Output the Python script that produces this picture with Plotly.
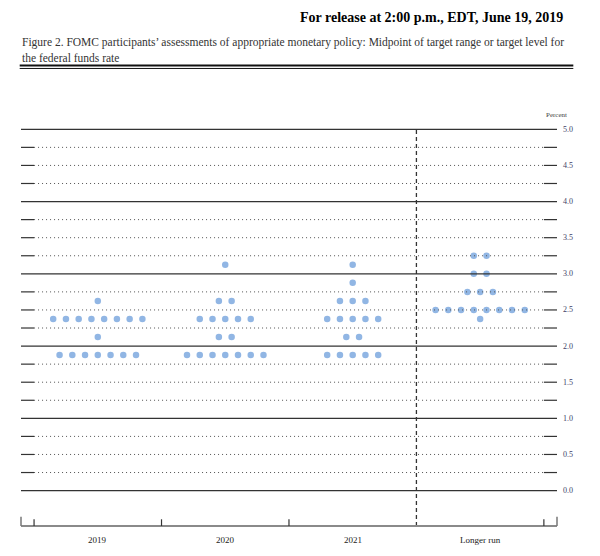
import plotly.graph_objects as go

# ---- data ----
categories = ["2019", "2020", "2021", "Longer run"]
rates_2019 = [2.625, 2.375, 2.125, 1.875]
counts_2019 = [1, 8, 1, 7]
rates_2020 = [3.125, 2.625, 2.375, 2.125, 1.875]
counts_2020 = [1, 2, 5, 2, 7]
rates_2021 = [3.125, 2.875, 2.625, 2.375, 2.125, 1.875]
counts_2021 = [1, 1, 3, 5, 2, 5]
rates_lr = [3.25, 3.0, 2.75, 2.5, 2.375]
counts_lr = [2, 2, 3, 8, 1]
y_tick_labels = ["5.0", "4.5", "4.0", "3.5", "3.0", "2.5", "2.0", "1.5", "1.0", "0.5", "0.0"]
y_tick_vals = [5.0, 4.5, 4.0, 3.5, 3.0, 2.5, 2.0, 1.5, 1.0, 0.5, 0.0]

groups = [(rates_2019, counts_2019), (rates_2020, counts_2020),
          (rates_2021, counts_2021), (rates_lr, counts_lr)]

W, H = 600, 556
L, R = 21.3, 556.7
T, B = 128.0, 525.7
XMIN, XMAX = -0.6025, 3.603
YMIN, YMAX = -0.49, 5.018
DOT_STEP = 0.1


def px(xp):
    return (xp - L) / (R - L)


def py(yp):
    return (B - yp) / (B - T)


xs, ys = [], []
for ci, (rates, counts) in enumerate(groups):
    for r, n in zip(rates, counts):
        for i in range(n):
            xs.append(ci + (i - (n - 1) / 2) * DOT_STEP)
            ys.append(r)

fig = go.Figure()
fig.add_trace(go.Scatter(
    x=xs, y=ys, mode="markers",
    marker=dict(size=6.5, color="#91B6E4", line=dict(width=0)),
    hoverinfo="y", showlegend=False, cliponaxis=False,
))

shapes = []
line_col = "#333333"
levels = [k * 0.25 for k in range(21)]
for v in levels:
    if abs(v - round(v)) < 1e-9:
        shapes.append(dict(type="line", xref="x", yref="y", x0=XMIN, x1=XMAX, y0=v, y1=v,
                           line=dict(color=line_col, width=1.2), layer="above"))
    else:
        shapes.append(dict(type="line", xref="x", yref="y", x0=XMIN, x1=-0.5, y0=v, y1=v,
                           line=dict(color=line_col, width=1.2), layer="above"))
        shapes.append(dict(type="line", xref="x", yref="y", x0=3.5, x1=XMAX, y0=v, y1=v,
                           line=dict(color=line_col, width=1.2), layer="above"))
        shapes.append(dict(type="line", xref="x", yref="y", x0=-0.5, x1=3.5, y0=v, y1=v,
                           line=dict(color="#555555", width=1, dash="1px,3px"), layer="above"))

# dashed divider
shapes.append(dict(type="line", xref="x", yref="y", x0=2.5, x1=2.5, y0=YMIN, y1=5.0,
                   line=dict(color=line_col, width=1.3, dash="4px,3px"), layer="above"))
# bottom axis
shapes.append(dict(type="line", xref="paper", yref="paper", x0=0, x1=1, y0=0, y1=0,
                   line=dict(color="#8a8a8a", width=2), layer="above"))
# ticks
for xt in [-0.5, 0.5, 1.5, 3.5]:
    shapes.append(dict(type="line", xref="x", yref="paper", x0=xt, x1=xt, y0=0, y1=py(519),
                       line=dict(color=line_col, width=1.2), layer="above"))
for xt in [0, 1]:
    shapes.append(dict(type="line", xref="paper", yref="paper", x0=xt, x1=xt, y0=0, y1=py(516.5),
                       line=dict(color="#777777", width=1.5), layer="above"))
# title underline (double)
shapes.append(dict(type="line", xref="paper", yref="paper", x0=px(20), x1=px(573), y0=py(65.5), y1=py(65.5),
                   line=dict(color="#111111", width=2)))
shapes.append(dict(type="line", xref="paper", yref="paper", x0=px(20), x1=px(573), y0=py(68.5), y1=py(68.5),
                   line=dict(color="#111111", width=1)))

annotations = []
for v, t in zip(y_tick_vals, y_tick_labels):
    annotations.append(dict(x=px(568), y=v, xref="paper", yref="y", text=t, showarrow=False,
                            xanchor="center", yanchor="middle",
                            font=dict(family="Liberation Serif", size=8, color="#3d3d66")))
for ci, c in enumerate(categories):
    annotations.append(dict(x=ci, y=py(540), xref="x", yref="paper", text=c, showarrow=False,
                            xanchor="center", yanchor="middle",
                            font=dict(family="Liberation Serif", size=9, color="#222222")))
annotations.append(dict(x=px(556), y=py(115), xref="paper", yref="paper", text="Percent",
                        showarrow=False, xanchor="center", yanchor="middle",
                        font=dict(family="Liberation Serif", size=7, color="#444444")))
annotations.append(dict(x=px(565), y=py(18), xref="paper", yref="paper",
                        text="<b>For release at 2:00 p.m., EDT, June 19, 2019</b>",
                        showarrow=False, xanchor="right", yanchor="middle",
                        font=dict(family="Liberation Serif", size=14, color="#000000")))
annotations.append(dict(x=px(20), y=py(43), xref="paper", yref="paper",
                        text="Figure 2. FOMC participants\u2019 assessments of appropriate monetary policy: Midpoint of target range or target level for",
                        showarrow=False, xanchor="left", yanchor="middle",
                        font=dict(family="Liberation Serif", size=11.5, color="#333333")))
annotations.append(dict(x=px(20), y=py(58), xref="paper", yref="paper",
                        text="the federal funds rate",
                        showarrow=False, xanchor="left", yanchor="middle",
                        font=dict(family="Liberation Serif", size=11.5, color="#333333")))

fig.update_layout(
    width=W, height=H,
    margin=dict(l=L, r=W - R, t=T, b=H - B, pad=0),
    paper_bgcolor="white", plot_bgcolor="white",
    xaxis=dict(range=[XMIN, XMAX], showgrid=False, zeroline=False, showticklabels=False,
               ticks="", showline=False, fixedrange=True),
    yaxis=dict(range=[YMIN, YMAX], showgrid=False, zeroline=False, showticklabels=False,
               ticks="", showline=False, fixedrange=True),
    shapes=shapes, annotations=annotations,
    showlegend=False,
)

fig.write_html("out.html", config={"displayModeBar": False},
               post_script="document.body.style.margin='0';")
